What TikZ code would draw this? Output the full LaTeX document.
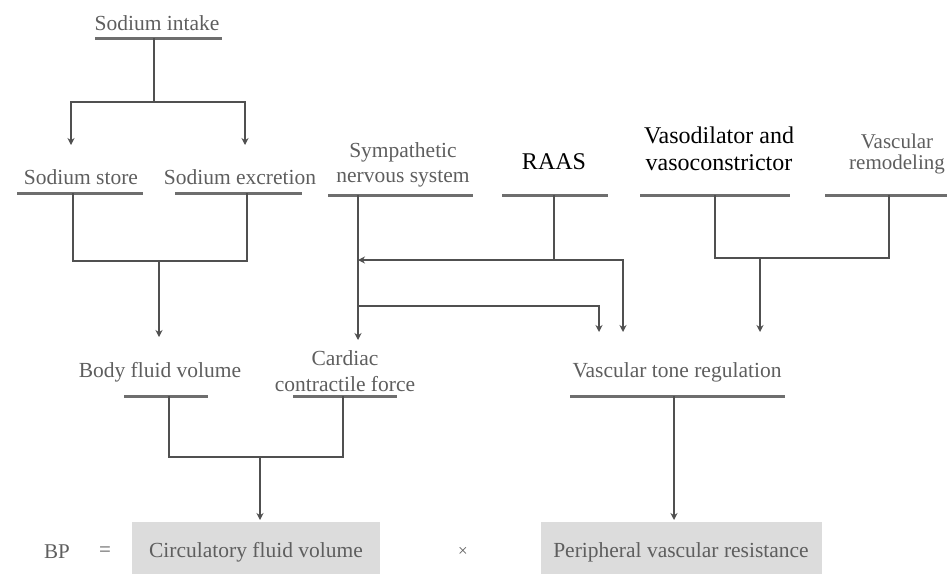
\documentclass[tikz,border=0pt]{standalone}
\usepackage{fontspec}
\setmainfont{Liberation Serif}
\usetikzlibrary{arrows.meta}
\definecolor{txtgray}{HTML}{5E5E5E}
\definecolor{linegray}{HTML}{505050}
\definecolor{ulgray}{HTML}{6E6E6E}
\definecolor{boxgray}{HTML}{DCDCDC}
\begin{document}
\begin{tikzpicture}[x=1pt,y=-1pt,
  lbl/.style={text=txtgray, font=\fontsize{21.5}{25.5}\selectfont, align=center, inner sep=0pt},
  blk/.style={text=black, font=\fontsize{24}{27}\selectfont, align=center, inner sep=0pt},
  ul/.style={draw=ulgray, line width=3pt},
  conn/.style={draw=linegray, line width=2pt},
  arr/.style={conn, -{Stealth[length=7pt,width=7pt]}},
  resbox/.style={fill=boxgray, draw=none, text=txtgray, font=\fontsize{21.5}{24}\selectfont, inner sep=0pt}]
\useasboundingbox (0,0) rectangle (947,574);

% labels
\node[lbl] (si) at (157,23) {Sodium intake};
\node[lbl] (ss) at (81,177) {Sodium store};
\node[lbl] (se) at (240,177) {Sodium excretion};
\node[lbl] (sns) at (403,165) {Sympathetic\\nervous system};
\node[blk] (raas) at (554,162) {RAAS};
\node[blk] (vaso) at (719,149) {Vasodilator and\\vasoconstrictor};
\node[lbl, font=\fontsize{21}{21}\selectfont] (vr) at (897,154) {Vascular\\remodeling};
\node[lbl] (bfv) at (160,372) {Body fluid volume};
\node[lbl] (ccf) at (345,371) {Cardiac\\contractile force};
\node[lbl] (vtr) at (677,372) {Vascular tone regulation};

% result boxes
\path[fill=boxgray] (132,522) rectangle (380,574);
\path[fill=boxgray] (541,522) rectangle (822,574);
\node[resbox] (cfv) at (256,552) {Circulatory fluid volume};
\node[resbox] (pvr) at (681,552) {Peripheral vascular resistance};
\node[lbl, font=\fontsize{21}{24}\selectfont] (bp) at (57,552) {BP};
\node[lbl, font=\fontsize{21}{24}\selectfont] (eq) at (105,552) {=};
\node[lbl, font=\fontsize{17}{24}\selectfont] (times) at (463,552) {×};

% underlines
\draw[ul] (95,38) -- (222,38);
\draw[ul] (17,193) -- (143,193);
\draw[ul] (175,193) -- (302,193);
\draw[ul] (328,195) -- (473,195);
\draw[ul] (502,195) -- (608,195);
\draw[ul] (640,195) -- (790,195);
\draw[ul] (825,195) -- (947,195);
\draw[ul] (124,396) -- (208,396);
\draw[ul] (293,396) -- (397,396);
\draw[ul] (570,396) -- (785,396);

% anchor coordinates
\coordinate (siB) at (154,38);
\coordinate (siJ) at (154,102);
\coordinate (ssT) at (71,145);
\coordinate (seT) at (245,145);
\coordinate (ssB) at (73,193);
\coordinate (seB) at (247,193);
\coordinate (naJ) at (159,261);
\coordinate (bfvT) at (159,337);
\coordinate (snsB) at (358,195);
\coordinate (ccfT) at (358,340);
\coordinate (raasB) at (554,195);
\coordinate (raasJ) at (554,260);
\coordinate (snsJ1) at (358,260);
\coordinate (snsJ2) at (358,306);
\coordinate (vtrT1) at (599,332);
\coordinate (vtrT2) at (623,332);
\coordinate (vasoB) at (715,195);
\coordinate (vrB) at (889,195);
\coordinate (vJ) at (760,258);
\coordinate (vtrT3) at (760,332);
\coordinate (bfvB) at (169,396);
\coordinate (ccfB) at (343,396);
\coordinate (cJ) at (260,457);
\coordinate (cfvT) at (260,520);
\coordinate (vtrB) at (674,396);
\coordinate (pvrT) at (674,520);

% connectors
\draw[conn] (siB) -- (siJ);
\draw[arr] (siJ) -| (ssT);
\draw[arr] (siJ) -| (seT);
\draw[conn] (ssB) |- (naJ) -| (seB);
\draw[arr] (naJ) -- (bfvT);
\draw[arr] (snsB) -- (ccfT);
\draw[conn] (raasB) -- (raasJ);
\draw[arr] (raasJ) -- (snsJ1);
\draw[arr] (raasJ) -| (vtrT2);
\draw[arr] (snsJ2) -| (vtrT1);
\draw[conn] (vasoB) |- (vJ) -| (vrB);
\draw[arr] (vJ) -- (vtrT3);
\draw[conn] (bfvB) |- (cJ) -| (ccfB);
\draw[arr] (cJ) -- (cfvT);
\draw[arr] (vtrB) -- (pvrT);
\end{tikzpicture}
\end{document}
